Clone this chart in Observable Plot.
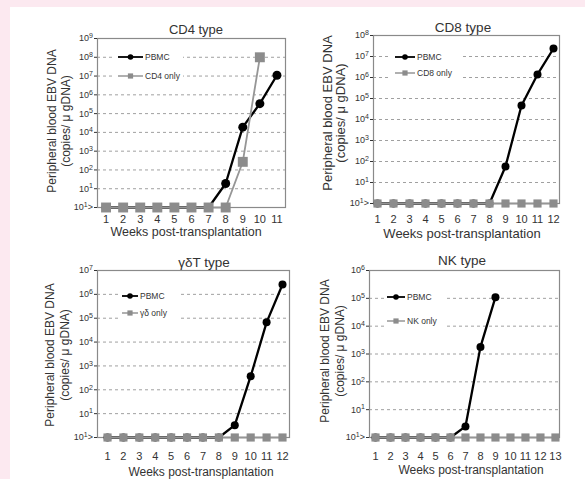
<!DOCTYPE html>
<html><head><meta charset="utf-8">
<script src="https://cdn.jsdelivr.net/npm/d3@7"></script>
<script src="https://cdn.jsdelivr.net/npm/@observablehq/plot@0.6"></script>
<style>
html,body{margin:0;padding:0;}
body{width:585px;height:479px;background:#fce9f0;position:relative;overflow:hidden;font-family:"Liberation Sans",Arial,sans-serif;}
#sheet{position:absolute;left:10px;top:7px;width:575px;height:472px;background:#fff;}
.panel{position:absolute;}
</style></head><body><div id="sheet"></div>
<script>
// ---- data (1 = below detection, plotted on the "10¹>" line) ----
const cd4Weeks = [1,2,3,4,5,6,7,8,9,10,11];
const cd4PBMC  = [1,1,1,1,1,1,1,19,1.9e4,3.4e5,1.1e7];
const cd4OnlyWeeks = [1,2,3,4,5,6,7,8,9,10];
const cd4Only  = [1,1,1,1,1,1,1,1,2.7e2,1.0e8];
const cd4Ticks = [1,1e1,1e2,1e3,1e4,1e5,1e6,1e7,1e8,1e9];

const cd8Weeks = [1,2,3,4,5,6,7,8,9,10,11,12];
const cd8PBMC  = [1,1,1,1,1,1,1,1,58,4.6e4,1.4e6,2.4e7];
const cd8Only  = [1,1,1,1,1,1,1,1,1,1,1,1];
const cd8Ticks = [1,1e1,1e2,1e3,1e4,1e5,1e6,1e7,1e8];

const gdWeeks = [1,2,3,4,5,6,7,8,9,10,11,12];
const gdPBMC  = [1,1,1,1,1,1,1,1,3.3,3.7e2,6.7e4,2.6e6];
const gdOnly  = [1,1,1,1,1,1,1,1,1,1,1,1];
const gdTicks = [1,1e1,1e2,1e3,1e4,1e5,1e6,1e7];

const nkWeeks = [1,2,3,4,5,6,7,8,9,10,11,12,13];
const nkPBMCWeeks = [1,2,3,4,5,6,7,8,9];
const nkPBMC  = [1,1,1,1,1,1,2.5,1.8e3,1.1e5];
const nkOnly  = [1,1,1,1,1,1,1,1,1,1,1,1,1];
const nkTicks = [1,1e1,1e2,1e3,1e4,1e5,1e6];

const titles = ["CD4 type", "CD8 type", "γδT type", "NK type"];
const otherNames = ["CD4 only", "CD8 only", "γδ only", "NK only"];
const pbmcName = "PBMC";
const yLabelLines = ["Peripheral blood EBV DNA", "(copies/ μ gDNA)"];
const xLabel = "Weeks post-transplantation";

const sup = {"0":"⁰","1":"¹","2":"²","3":"³","4":"⁴","5":"⁵","6":"⁶","7":"⁷","8":"⁸","9":"⁹"};
const fmt = v => v === 1 ? "10¹>" : "10" + String(Math.round(Math.log10(v))).split("").map(c => sup[c]).join("");
const unsup = Object.fromEntries(Object.entries(sup).map(([a,b]) => [b,a]));

const panels = [
  {pbmcW:cd4Weeks, pbmc:cd4PBMC, otherW:cd4OnlyWeeks, other:cd4Only,
   weeks:cd4Weeks, ticks:cd4Ticks,
   svg:{l:0,t:0,w:292,h:238}, frame:{l:97,r:285,t:38,b:207}, xDomain:[0.5,11.5],
   cR:4.5, sR:5.6, tPos:[196,29,13], xPad:7.5, xLab:[186,232,12.5], yLab:[52,66,121,12],
   leg:{box:[16,86,10,48], y:[19,38], line:[21,46], text:48}},
  {pbmcW:cd8Weeks, pbmc:cd8PBMC, otherW:cd8Weeks, other:cd8Only,
   weeks:cd8Weeks, ticks:cd8Ticks,
   svg:{l:292,t:0,w:293,h:238}, frame:{l:373,r:559,t:35,b:203}, xDomain:[0.75,12.375],
   cR:4, sR:4.6, tPos:[463,27,13.5], xPad:12, xLab:[462,233,13], yLab:[327,340,113,13],
   leg:{box:[15,90,12,50], y:[22,38], line:[22,42], text:44}},
  {pbmcW:gdWeeks, pbmc:gdPBMC, otherW:gdWeeks, other:gdOnly,
   weeks:gdWeeks, ticks:gdTicks,
   svg:{l:0,t:238,w:292,h:241}, frame:{l:97,r:289,t:270,b:437}, xDomain:[0.37,12.44],
   cR:4, sR:4.6, tPos:[204,262,13.5], xPad:14.5, xLab:[201,472,12], yLab:[50,65,355,12],
   leg:{box:[21,81,16,53], y:[26,43], line:[25,41], text:43}},
  {pbmcW:nkPBMCWeeks, pbmc:nkPBMC, otherW:nkWeeks, other:nkOnly,
   weeks:nkWeeks, ticks:nkTicks,
   svg:{l:292,t:238,w:293,h:241}, frame:{l:369,r:559,t:270,b:437}, xDomain:[0.6,13.27],
   cR:4, sR:4.6, tPos:[462,260,13.5], xPad:14.5, xLab:[471,470,12], yLab:[325,340,351,12],
   leg:{box:[16,78,17,61], y:[27,51], line:[18,36], text:38}}
];

panels.forEach((p, k) => {
  const pbmcData = p.pbmcW.map((w,i) => ({week:w, v:p.pbmc[i]}));
  const otherData = p.otherW.map((w,i) => ({week:w, v:p.other[i]}));
  const yMax = p.ticks[p.ticks.length-1];
  const chart = Plot.plot({
    width:p.svg.w, height:p.svg.h,
    marginLeft:p.frame.l-p.svg.l, marginRight:p.svg.l+p.svg.w-p.frame.r,
    marginTop:p.frame.t-p.svg.t, marginBottom:p.svg.t+p.svg.h-p.frame.b,
    style:{background:"transparent", fontFamily:"'Liberation Sans', Arial, sans-serif", color:"#333", overflow:"visible"},
    x:{domain:p.xDomain, axis:null},
    y:{type:"log", domain:[1,yMax], axis:null},
    marks:[
      Plot.gridY(p.ticks.filter(t => t>1 && t<yMax), {stroke:"#a0a0a0", strokeOpacity:1, strokeDasharray:"3,3"}),
      Plot.frame({stroke:"#8a8a8a", strokeWidth:1.2}),
      Plot.axisX(p.weeks, {tickSize:0, tickPadding:p.xPad, fontSize:11, label:null}),
      Plot.axisY(p.ticks, {tickSize:3, tickPadding:1.5, fontSize:9, tickFormat:fmt, label:null, ariaLabel:"y-axis"}),
      Plot.line(pbmcData, {x:"week", y:"v", stroke:"#000", strokeWidth:2.3}),
      Plot.dot(pbmcData, {x:"week", y:"v", r:p.cR, fill:"#000"}),
      Plot.line(otherData, {x:"week", y:"v", stroke:"#969696", strokeWidth:1.8}),
      Plot.dot(otherData, {x:"week", y:"v", r:p.sR, symbol:"square", fill:"#8c8c8c"})
    ]
  });
  chart.classList.add("panel");
  chart.style.left = p.svg.l + "px";
  chart.style.top = p.svg.t + "px";
  document.body.appendChild(chart);

  const svg = d3.select(chart);
  // render exponent as real superscript tspans (larger than unicode superscripts)
  svg.selectAll("text").each(function() {
    const s = this.textContent;
    const m = /^10([⁰¹²³⁴⁵⁶⁷⁸⁹]+)(>?)$/.exec(s);
    if (!m || this.children.length) return;
    const exp = m[1].split("").map(c => unsup[c]).join("");
    const t = d3.select(this);
    t.text("10");
    t.append("tspan").attr("dy","-0.45em").attr("font-size","0.78em").text(exp);
    if (m[2]) t.append("tspan").attr("dy","0.35em").text(m[2]);
  });

  const ox = p.svg.l, oy = p.svg.t;
  // title
  svg.append("text").attr("x", p.tPos[0]-ox).attr("y", p.tPos[1]-oy)
    .attr("text-anchor","middle").attr("dominant-baseline","central")
    .attr("font-size", p.tPos[2]).attr("fill","#333").text(titles[k]);
  // x label
  svg.append("text").attr("x", p.xLab[0]-ox).attr("y", p.xLab[1]-oy)
    .attr("text-anchor","middle").attr("dominant-baseline","central")
    .attr("font-size", p.xLab[2]).attr("fill","#333").text(xLabel);
  // y label (two lines, rotated)
  yLabelLines.forEach((line, i) => {
    svg.append("text")
      .attr("transform", `translate(${p.yLab[i]-ox},${p.yLab[2]-oy}) rotate(-90)`)
      .attr("text-anchor","middle").attr("dominant-baseline","central")
      .attr("font-size", p.yLab[3]).attr("fill","#333").text(line);
  });
  // legend
  const fl = p.frame.l - ox, ft = p.frame.t - oy, L = p.leg;
  svg.append("rect").attr("x", fl+L.box[0]).attr("y", ft+L.box[2])
    .attr("width", L.box[1]-L.box[0]).attr("height", L.box[3]-L.box[2]).attr("fill","#fff");
  const items = [
    {name:pbmcName, stroke:"#000", sw:1.8, sym:"circle", fill:"#000"},
    {name:otherNames[k], stroke:"#969696", sw:1.5, sym:"square", fill:"#8c8c8c"}
  ];
  items.forEach((it, i) => {
    const y = ft + L.y[i];
    svg.append("line").attr("x1", fl+L.line[0]).attr("x2", fl+L.line[1]).attr("y1", y).attr("y2", y)
      .attr("stroke", it.stroke).attr("stroke-width", it.sw);
    const cx = fl + (L.line[0]+L.line[1])/2;
    if (it.sym === "circle") svg.append("circle").attr("cx", cx).attr("cy", y).attr("r", 2.8).attr("fill", it.fill);
    else svg.append("rect").attr("x", cx-2.6).attr("y", y-2.6).attr("width", 5.2).attr("height", 5.2).attr("fill", it.fill);
    svg.append("text").attr("x", fl+L.text).attr("y", y)
      .attr("text-anchor","start").attr("dominant-baseline","central")
      .attr("font-size", 8.5).attr("fill","#333").text(it.name);
  });
});
</script>
</body></html>
